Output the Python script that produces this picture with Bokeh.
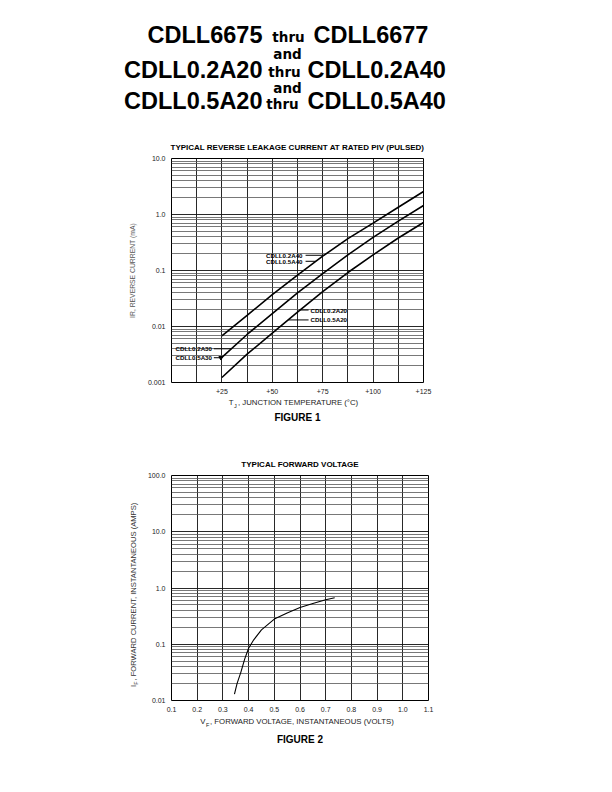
import math
from bokeh.plotting import figure
from bokeh.layouts import row
from bokeh.models import Range1d, FixedTicker, PrintfTickFormatter
from bokeh.core.properties import value
from bokeh.embed import file_html
from bokeh.resources import INLINE

# ---------------- header text ----------------
TITLE_LEFT = ["CDLL6675", "CDLL0.2A20", "CDLL0.5A20"]
TITLE_JOIN = ["thru", "thru", "thru"]
TITLE_RIGHT = ["CDLL6677", "CDLL0.2A40", "CDLL0.5A40"]
TITLE_AND = ["and", "and"]

# ---------------- figure 1 data ----------------
FIG1_TITLE = "TYPICAL REVERSE LEAKAGE CURRENT AT RATED PIV (PULSED)"
FIG1_CAPTION = "FIGURE 1"
FIG1_YLABEL = "IR, REVERSE CURRENT (mA)"
FIG1_XLABEL_MAIN = "T"
FIG1_XLABEL_SUB = "J"
FIG1_XLABEL_REST = ", JUNCTION TEMPERATURE (\u00b0C)"
TEMP_C = [25, 37.5, 50, 62.5, 75, 87.5, 100, 112.5, 125]
IR_40V_MA = [0.0068, 0.0158, 0.037, 0.083, 0.18, 0.37, 0.70, 1.35, 2.57]
IR_30V_MA = [0.0028, 0.0072, 0.017, 0.040, 0.088, 0.19, 0.39, 0.76, 1.45]
IR_20V_MA = [0.00123, 0.0032, 0.0076, 0.018, 0.042, 0.092, 0.19, 0.38, 0.72]
TEMP_TICKS = [25, 50, 75, 100, 125]
TEMP_GRID = [0, 12.5, 25, 37.5, 50, 62.5, 75, 87.5, 100, 112.5, 125]
IR_TICKS = [0.001, 0.01, 0.1, 1.0, 10.0]
IR_TICK_LABELS = ["0.001", "0.01", "0.1", "1.0", "10.0"]

# curve call-outs: text, text anchor (T, I), leader from T to T
LBL40_TEXT = ["CDLL0.2A40", "CDLL0.5A40"]
LBL40_T = [65, 65]
LBL40_I = [0.187, 0.146]
LBL40_LEAD_FROM = [66.5, 66.5]
LBL40_LEAD_TO = [75.8, 71.6]

LBL30_TEXT = ["CDLL0.2A30", "CDLL0.5A30"]
LBL30_T = [2, 2]
LBL30_I = [0.0040, 0.00277]
LBL30_LEAD_FROM = [21, 21]
LBL30_LEAD_TO = [29.6, 24.5]

LBL20_TEXT = ["CDLL0.2A20", "CDLL0.5A20"]
LBL20_T = [69, 69]
LBL20_I = [0.0197, 0.0131]
LBL20_LEAD_FROM = [63.5, 58]
LBL20_LEAD_TO = [68, 68]

# ---------------- figure 2 data ----------------
FIG2_TITLE = "TYPICAL FORWARD VOLTAGE"
FIG2_CAPTION = "FIGURE 2"
FIG2_YLABEL_MAIN = "I"
FIG2_YLABEL_SUB = "F"
FIG2_YLABEL_REST = ", FORWARD CURRENT, INSTANTANEOUS (AMPS)"
FIG2_XLABEL_MAIN = "V"
FIG2_XLABEL_SUB = "F"
FIG2_XLABEL_REST = ", FORWARD VOLTAGE, INSTANTANEOUS (VOLTS)"
VF_VOLTS = [0.345, 0.355, 0.37, 0.385, 0.40, 0.42, 0.45, 0.50, 0.55, 0.60, 0.65, 0.70, 0.735]
IF_AMPS = [0.013, 0.020, 0.032, 0.055, 0.085, 0.12, 0.18, 0.28, 0.36, 0.45, 0.53, 0.62, 0.67]
VF_TICKS = [0.1, 0.2, 0.3, 0.4, 0.5, 0.6, 0.7, 0.8, 0.9, 1.0, 1.1]
IF_TICKS = [0.01, 0.1, 1.0, 10.0, 100.0]
IF_TICK_LABELS = ["0.01", "0.1", "1.0", "10.0", "100.0"]

SANS = "Liberation Sans"
PAGE_W = 600


def log_minors(decades):
    out = []
    for d in decades[:-1]:
        for k in range(2, 10):
            out.append(d * k)
    return out


def style_plot(p, xticks, xgrid_ticks, yticks, ylabels, xfmt):
    p.xaxis.ticker = FixedTicker(ticks=xticks)
    p.xaxis.formatter = PrintfTickFormatter(format=xfmt)
    p.yaxis.ticker = FixedTicker(ticks=yticks)
    p.yaxis.major_label_overrides = {t: s for t, s in zip(yticks, ylabels)}
    for ax in (p.xaxis, p.yaxis):
        ax.axis_line_color = None
        ax.major_tick_line_color = None
        ax.minor_tick_line_color = None
        ax.major_tick_out = 0
        ax.major_tick_in = 0
        ax.minor_tick_out = 0
        ax.minor_tick_in = 0
        ax.major_label_standoff = 6
        ax.major_label_text_font = SANS
        ax.major_label_text_font_size = "7px"
        ax.major_label_text_color = "#222222"
    p.xgrid.ticker = FixedTicker(ticks=xgrid_ticks)
    p.xgrid.grid_line_color = "#111111"
    p.xgrid.grid_line_width = 0.9
    p.ygrid.ticker = FixedTicker(ticks=yticks, minor_ticks=log_minors(yticks))
    p.ygrid.grid_line_color = "#111111"
    p.ygrid.grid_line_width = 0.9
    p.ygrid.minor_grid_line_color = "#555555"
    p.ygrid.minor_grid_line_width = 0.8
    p.outline_line_color = "black"
    p.outline_line_width = 1
    p.background_fill_color = "white"
    p.border_fill_color = "white"


def text_panel(height, width=PAGE_W, left=0.0):
    """A bare figure whose data units are page pixels (y grows downward)."""
    f = figure(frame_width=width, frame_height=height,
               x_range=Range1d(left, left + width), y_range=Range1d(height, 0),
               x_axis_location=None, y_axis_location=None, toolbar_location=None,
               output_backend="svg", min_border=0, outline_line_color=None)
    f.grid.visible = False
    return f


def put(f, x, y, text, size, bold=False, align="left", baseline="alphabetic",
        font=SANS, color="black", angle=0.0):
    f.text(x=x, y=y, text=text, text_align=align, text_baseline=baseline,
           text_font=value(font), text_font_size=size,
           text_font_style="bold" if bold else "normal", text_color=color, angle=angle)


# ---------------- header (page y 0..154) ----------------
hdr = text_panel(154)
put(hdr, [262, 262, 262], [34.0, 69.0, 100.3], TITLE_LEFT, "23.5px", True, "right")
put(hdr, [288, 284, 282], [36.9, 71.9, 103.2], TITLE_JOIN, "13.5px", True, "center", font="DejaVu Sans")
put(hdr, [313, 307, 307], [34.0, 69.0, 100.3], TITLE_RIGHT, "23.5px", True, "left")
put(hdr, [287, 287], [53.5, 87.5], TITLE_AND, "13.5px", True, "center", font="DejaVu Sans")
put(hdr, [297], [147.2], [FIG1_TITLE], "8px", True, "center")

# ---------------- figure 1 (page y 154..398) ----------------
p1 = figure(frame_width=252, frame_height=224, x_range=Range1d(0, 125),
            y_range=Range1d(0.001, 10), y_axis_type="log",
            min_border_left=171, min_border_right=PAGE_W - 171 - 252,
            min_border_top=4, min_border_bottom=16,
            toolbar_location=None, output_backend="svg")
style_plot(p1, TEMP_TICKS, TEMP_GRID, IR_TICKS, IR_TICK_LABELS, "+%d")
p1.yaxis.axis_label = FIG1_YLABEL
p1.yaxis.axis_label_text_font = SANS
p1.yaxis.axis_label_text_font_size = "6.8px"
p1.yaxis.axis_label_text_font_style = "normal"
p1.yaxis.axis_label_text_color = "#555555"
p1.yaxis.axis_label_standoff = 9

for ys in (IR_40V_MA, IR_30V_MA, IR_20V_MA):
    p1.line(TEMP_C, ys, line_color="black", line_width=1.6)

LT = dict(text_font=value(SANS), text_font_style="bold", text_font_size="6.2px",
          text_baseline="middle", text_color="black")
p1.text(x=LBL40_T, y=LBL40_I, text=LBL40_TEXT, text_align="right", **LT)
p1.segment(x0=LBL40_LEAD_FROM, y0=LBL40_I, x1=LBL40_LEAD_TO, y1=LBL40_I, line_color="black", line_width=1)
p1.text(x=LBL30_T, y=LBL30_I, text=LBL30_TEXT, text_align="left", **LT)
p1.segment(x0=LBL30_LEAD_FROM, y0=LBL30_I, x1=LBL30_LEAD_TO, y1=LBL30_I, line_color="black", line_width=1)
p1.scatter(x=LBL30_LEAD_TO[1:], y=LBL30_I[1:], marker="inverted_triangle", size=4,
           fill_color="black", line_color="black")
p1.text(x=LBL20_T, y=LBL20_I, text=LBL20_TEXT, text_align="left", **LT)
p1.segment(x0=LBL20_LEAD_FROM, y0=LBL20_I, x1=LBL20_LEAD_TO, y1=LBL20_I, line_color="black", line_width=1)

# ---------------- caption 1 + title 2 (page y 398..470) ----------------
cap1 = text_panel(72)
put(cap1, [233], [4.4], [FIG1_XLABEL_MAIN], "7.8px", align="right", color="#222222")
put(cap1, [233.5], [7.6], [FIG1_XLABEL_SUB], "5.5px", align="left", color="#222222")
put(cap1, [237.5], [4.4], [FIG1_XLABEL_REST], "7.8px", align="left", color="#222222")
put(cap1, [297], [19], [FIG1_CAPTION], "10px", True, "center")
put(cap1, [299.5], [65.9], [FIG2_TITLE], "8px", True, "center")

# ---------------- figure 2 (page y 470..715) ----------------
lab2 = figure(frame_width=16, frame_height=225, x_range=Range1d(124, 140), y_range=Range1d(0, 225),
              x_axis_location=None, y_axis_location=None, toolbar_location=None,
              output_backend="svg", min_border_left=124, min_border_right=0,
              min_border_top=5, min_border_bottom=15, outline_line_color=None)
lab2.grid.visible = False
put(lab2, [133], [15.5], [FIG2_YLABEL_MAIN], "7.6px", align="right", baseline="middle",
    color="#333333", angle=math.pi / 2)
put(lab2, [135.5], [15.8], [FIG2_YLABEL_SUB], "5.3px", align="left", baseline="middle",
    color="#333333", angle=math.pi / 2)
put(lab2, [133], [20], [FIG2_YLABEL_REST], "7.6px", align="left", baseline="middle",
    color="#333333", angle=math.pi / 2)

p2 = figure(frame_width=257, frame_height=225, x_range=Range1d(0.1, 1.1),
            y_range=Range1d(0.01, 100), y_axis_type="log",
            min_border_left=171 - 140, min_border_right=PAGE_W - 171 - 257,
            min_border_top=5, min_border_bottom=15,
            toolbar_location=None, output_backend="svg")
style_plot(p2, VF_TICKS, VF_TICKS, IF_TICKS, IF_TICK_LABELS, "%.1f")
p2.line(VF_VOLTS, IF_AMPS, line_color="black", line_width=1.1)
fig2 = row(lab2, p2, spacing=0)

# ---------------- caption 2 (page y 715..760) ----------------
cap2 = text_panel(45)
put(cap2, [205], [6.4], [FIG2_XLABEL_MAIN], "7.8px", align="right", color="#222222")
put(cap2, [205.5], [9.6], [FIG2_XLABEL_SUB], "5.5px", align="left", color="#222222")
put(cap2, [209.5], [6.4], [FIG2_XLABEL_REST], "7.8px", align="left", color="#222222")
put(cap2, [299.5], [23.5], [FIG2_CAPTION], "10px", True, "center")

open("out.html", "w").write(file_html([hdr, p1, cap1, fig2, cap2], INLINE))
